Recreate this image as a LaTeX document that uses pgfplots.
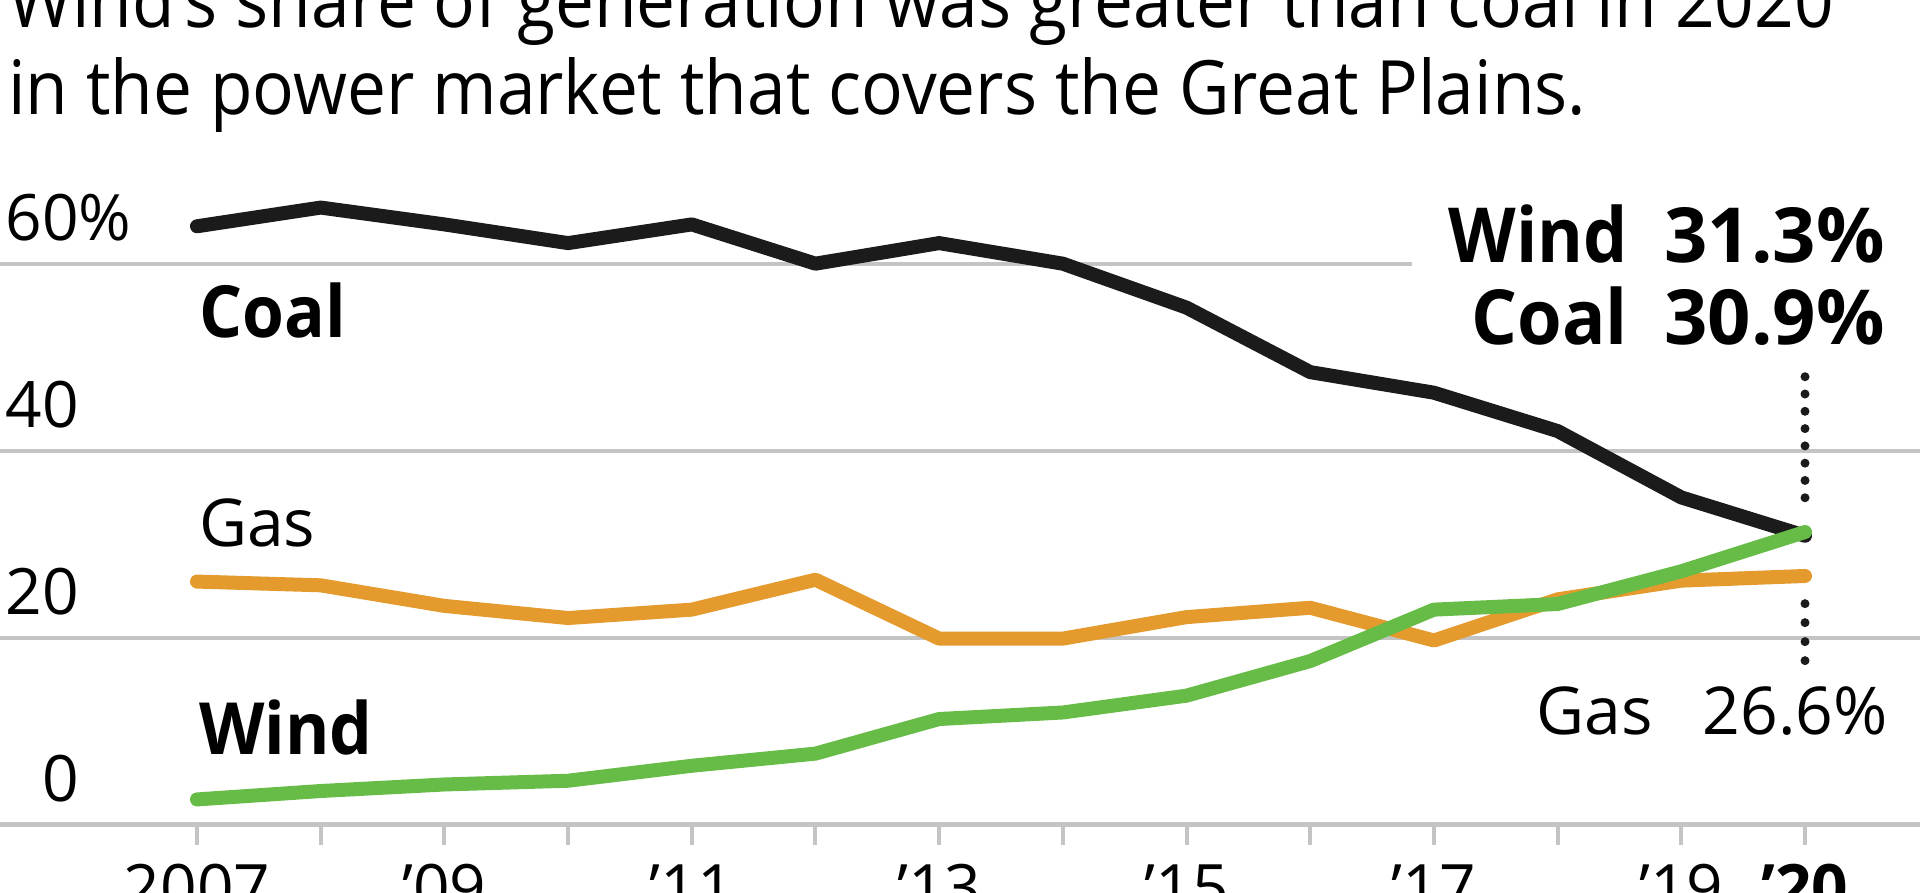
\documentclass[border=0pt]{standalone}
\usepackage{fontspec}
\setmainfont{Open Sans}
\usepackage{pgfplots}
\usepackage{graphicx}
\pgfplotsset{compat=1.18}
\definecolor{coalc}{HTML}{1B1B1B}
\definecolor{gasc}{HTML}{E49A2C}
\definecolor{windc}{HTML}{66BC46}
\definecolor{gridc}{HTML}{C4C4C4}
\newsavebox\tlineb
\newlength\titlewd
\begin{document}
\sbox\tlineb{\fontsize{75}{90}\selectfont in the power market that covers the Great Plains.}%
\setlength\titlewd{\wd\tlineb}%
\pgfmathsetmacro\sx{1578/\titlewd}%
\begin{tikzpicture}[x=1pt,y=1pt]
\useasboundingbox (0,0) rectangle (1920,892);
\clip (0,0) rectangle (1920,892);
\node[anchor=base west, inner sep=0pt] at (8,777) {\scalebox{\sx}[1]{\usebox\tlineb}};
\node[anchor=base west, inner sep=0pt] at (8,864) {\scalebox{\sx}[1]{\fontsize{75}{90}\selectfont Wind’s share of generation was greater than coal in 2020}};
\begin{axis}[at={(0,72)}, anchor=south west, scale only axis,
  width=1920pt, height=561pt,
  xmin=2005.4073, xmax=2020.9297, ymin=0, ymax=60, clip=false,
  axis line style={draw=none},
  /pgf/number format/assume math mode=true,
  xtick={2007,2008,2009,2010,2011,2012,2013,2014,2015,2016,2017,2018,2019,2020},
  xticklabels={2007,,’09,,’11,,’13,,’15,,’17,,’19,\textbf{’20}},
  xtick pos=bottom, tick align=outside, major tick length=20pt,
  xtick style={draw=gridc, line width=4pt},
  ytick={0,20,40,60}, yticklabels={0,20,40,{60\rlap{\%}}},
  ytick style={draw=none},
  xticklabel style={anchor=base, inner sep=0pt, yshift=-66pt, font=\fontsize{64}{64}\selectfont},
  yticklabel style={anchor=base east, inner sep=0pt, xshift=99pt, yshift=23pt, font=\fontsize{64}{64}\selectfont},
]
\draw[gridc, line width=4pt] (axis cs:2005.4073,60) -- (axis cs:2016.823,60);
\draw[gridc, line width=4pt] (axis cs:2005.4073,40) -- (axis cs:2020.9297,40);
\draw[gridc, line width=4pt] (axis cs:2005.4073,20) -- (axis cs:2020.9297,20);
\draw[gridc, line width=5pt] (axis cs:2005.4073,0) -- (axis cs:2020.9297,0);
\draw[coalc, line width=9pt, line cap=round, dash pattern=on 0pt off 17.29pt] (axis cs:2020,47.91) -- (axis cs:2020,34.93);
\draw[coalc, line width=9pt, line cap=round, dash pattern=on 0pt off 19pt] (axis cs:2020,23.64) -- (axis cs:2020,17.5);
\addplot[gasc, line width=14pt, line cap=round, line join=round] coordinates {
(2007,26.0) (2008,25.6) (2009,23.4) (2010,22.1) (2011,23.0) (2012,26.2) (2013,19.9)
(2014,19.9) (2015,22.2) (2016,23.2) (2017,19.7) (2018,24.1) (2019,26.1) (2020,26.6)};
\addplot[coalc, line width=14pt, line cap=round, line join=round] coordinates {
(2007,64.0) (2008,66.0) (2009,64.2) (2010,62.2) (2011,64.2) (2012,60.0) (2013,62.2)
(2014,60.0) (2015,55.3) (2016,48.4) (2017,46.2) (2018,42.1) (2019,35.0) (2020,30.9)};
\addplot[windc, line width=14pt, line cap=round, line join=round] coordinates {
(2007,2.7) (2008,3.6) (2009,4.3) (2010,4.7) (2011,6.3) (2012,7.6) (2013,11.3)
(2014,12.0) (2015,13.8) (2016,17.5) (2017,23.0) (2018,23.6) (2019,27.1) (2020,31.3)};
\end{axis}
\begin{scope}[every node/.style={inner sep=0pt}]
\node[anchor=base west] at (199,554) {\scalebox{0.94}[1]{\fontsize{72}{72}\selectfont\bfseries Coal}};
\node[anchor=base west] at (199,345) {\fontsize{66}{66}\selectfont Gas};
\node[anchor=base west] at (199,137) {\scalebox{0.94}[1]{\fontsize{72}{72}\selectfont\bfseries Wind}};
\node[anchor=base east] at (1628,629) {\scalebox{0.92}[1]{\fontsize{76}{76}\selectfont\bfseries Wind}};
\node[anchor=base east] at (1885,629) {\fontsize{76}{76}\selectfont\bfseries 31.3\%};
\node[anchor=base east] at (1628,547) {\scalebox{0.95}[1]{\fontsize{76}{76}\selectfont\bfseries Coal}};
\node[anchor=base east] at (1885,547) {\fontsize{76}{76}\selectfont\bfseries 30.9\%};
\node[anchor=base east] at (1653,157) {\fontsize{66}{66}\selectfont Gas};
\node[anchor=base east] at (1888,157) {\fontsize{66}{66}\selectfont 26.6\%};
\end{scope}
\end{tikzpicture}
\end{document}
